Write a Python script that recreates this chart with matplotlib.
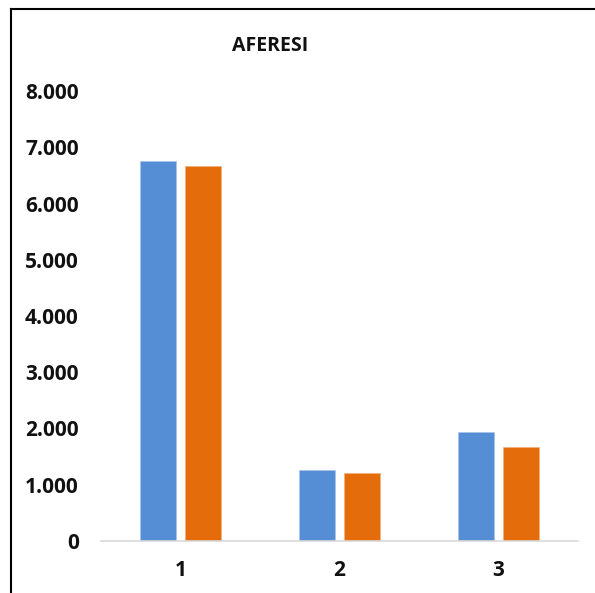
import matplotlib.pyplot as plt
import numpy as np
from matplotlib.lines import Line2D

plt.rcParams['font.family'] = ['Open Sans', 'DejaVu Sans']

categories = ['1', '2', '3']
serie_a = [6760, 1260, 1940]
serie_b = [6670, 1205, 1670]
yticks = [0, 1000, 2000, 3000, 4000, 5000, 6000, 7000, 8000]
ylabels = ['0', '1.000', '2.000', '3.000', '4.000', '5.000', '6.000', '7.000', '8.000']

W, H = 595, 593
fig = plt.figure(figsize=(W / 100, H / 100), dpi=100)
ax = fig.add_axes([101 / W, 52 / H, 477 / W, (541 - 91) / H])

x = np.arange(len(categories))
w = 0.226
ax.bar(x - 0.142, serie_a, w, color='#558ED5', edgecolor='#A9C4EA', linewidth=0.6)
ax.bar(x + 0.142, serie_b, w, color='#E46C0A', edgecolor='#F3B27F', linewidth=0.6)

ax.set_xlim(-0.5, 2.5)
ax.set_ylim(0, 8000)
ax.set_yticks(yticks)
ax.set_yticklabels(ylabels)
ax.set_xticks(x)
ax.set_xticklabels(categories)
for s in ['top', 'right', 'left']:
    ax.spines[s].set_visible(False)
ax.spines['bottom'].set_color('#D9D9D9')
ax.spines['bottom'].set_linewidth(1.2)
ax.tick_params(axis='both', length=0, labelsize=15)
ax.tick_params(axis='y', pad=16)
ax.tick_params(axis='x', pad=14)
for lab in ax.get_xticklabels() + ax.get_yticklabels():
    lab.set_fontweight('bold')
    lab.set_color('#111111')

fig.text(270 / W, 1 - 46 / H, 'AFERESI', ha='center', va='center',
         fontsize=14, fontweight='bold', color='#111111')

# chart border (only top and left visible)
fig.add_artist(Line2D([11 / W, 11 / W], [0, 1 - 9 / H], transform=fig.transFigure,
                      color='black', linewidth=1.5))
fig.add_artist(Line2D([11 / W, 1], [1 - 9 / H, 1 - 9 / H], transform=fig.transFigure,
                      color='black', linewidth=1.5))

fig.savefig('out.png', dpi=100)
